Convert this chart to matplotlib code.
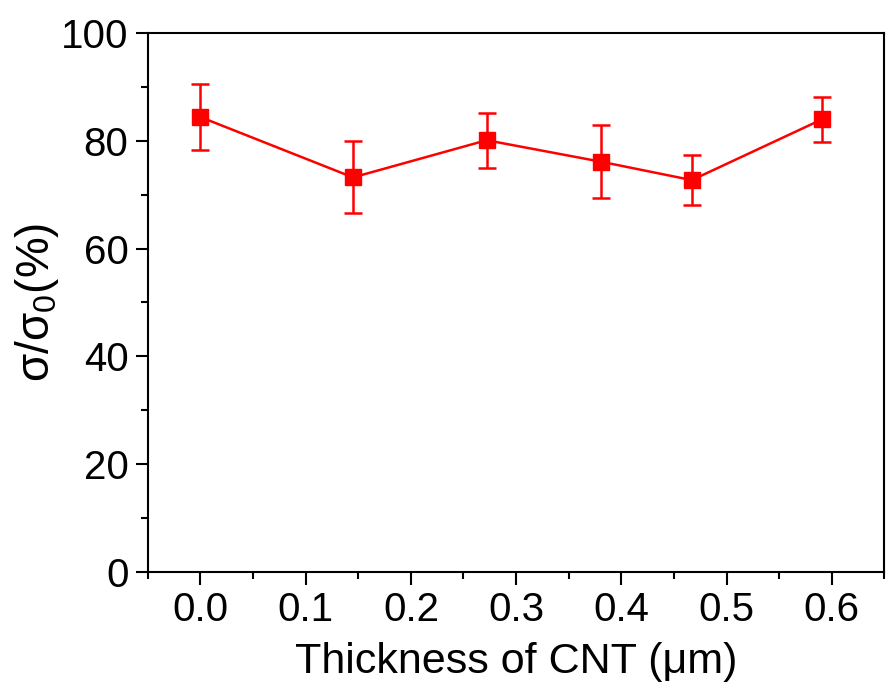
import numpy as np
import matplotlib.pyplot as plt
from matplotlib.ticker import MultipleLocator

plt.rcParams['font.family'] = ['Liberation Sans', 'DejaVu Sans']
plt.rcParams['mathtext.fontset'] = 'custom'
plt.rcParams['mathtext.rm'] = 'Liberation Sans'
plt.rcParams['mathtext.default'] = 'regular'

thickness = [0.0, 0.145, 0.272, 0.381, 0.467, 0.591]
ratio = [84.4, 73.2, 80.1, 76.1, 72.7, 84.0]
err = [6.2, 6.7, 5.1, 6.8, 4.7, 4.2]

fig = plt.figure(figsize=(8.96, 6.88), dpi=100)
ax = fig.add_axes([0.165, 0.169, 0.822, 0.783])

ax.errorbar(thickness, ratio, yerr=err, color='red', marker='s', ms=12,
            lw=1.8, elinewidth=1.8, capsize=6.5, capthick=1.8)

ax.set_xlim(-0.05, 0.65)
ax.set_ylim(0, 100)
ax.xaxis.set_major_locator(MultipleLocator(0.1))
ax.xaxis.set_minor_locator(MultipleLocator(0.05))
ax.yaxis.set_major_locator(MultipleLocator(20))
ax.yaxis.set_minor_locator(MultipleLocator(10))
ax.set_xticks([0.0, 0.1, 0.2, 0.3, 0.4, 0.5, 0.6])
ax.set_xticklabels(['0.0', '0.1', '0.2', '0.3', '0.4', '0.5', '0.6'])

ax.tick_params(which='major', direction='out', length=9, width=1.5, labelsize=29, pad=5)
ax.tick_params(which='minor', direction='out', length=5, width=1.5)
for s in ax.spines.values():
    s.set_linewidth(1.5)

ax.set_xlabel('Thickness of CNT (μm)', fontsize=31, labelpad=9)
ax.set_ylabel(r'σ/σ$_0$(%)', fontsize=33, labelpad=0)

fig.savefig('out.png', dpi=100)
